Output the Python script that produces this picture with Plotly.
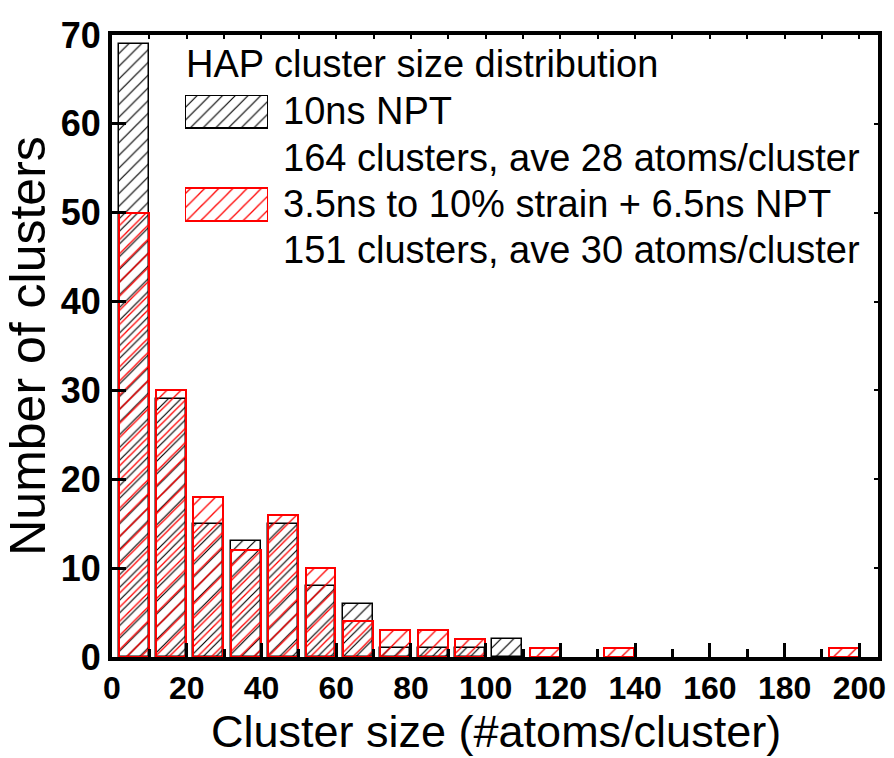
import plotly.graph_objects as go

# ---- data ----
bin_centers = [5.8, 15.8, 25.8, 35.8, 45.8, 55.8, 65.8, 75.8, 85.8, 95.8,
               105.8, 115.8, 125.8, 135.8, 145.8, 155.8, 165.8, 175.8, 185.8, 195.8]
npt_10ns = [69, 29, 15, 13, 15, 8, 6, 1, 1, 1, 2, 0, 0, 0, 0, 0, 0, 0, 0, 0]
strain_npt = [50, 30, 18, 12, 16, 10, 4, 3, 3, 2, 0, 1, 0, 1, 0, 0, 0, 0, 0, 1]
x_ticks = [0, 20, 40, 60, 80, 100, 120, 140, 160, 180, 200]
y_ticks = [0, 10, 20, 30, 40, 50, 60, 70]

x_title = "Cluster size (#atoms/cluster)"
y_title = "Number of clusters"
legend_title = "HAP cluster size distribution"
series_names = ["10ns NPT", "3.5ns to 10% strain + 6.5ns NPT"]
series_notes = ["164 clusters, ave 28 atoms/cluster", "151 clusters, ave 30 atoms/cluster"]
series_colors = ["black", "red"]
pattern_sizes = [9, 10]

W, H = 894, 758
L, R, T, B = 112, 878, 35, 657  # plot area in pixels

def px(x):
    return (x - L) / (R - L)

def py(y):
    return (B - y) / (B - T)

def nz(vals):
    return [v if v else None for v in vals]

fig = go.Figure()

for vals, col, ps, lw in [(npt_10ns, series_colors[0], pattern_sizes[0], 1.5),
                          (strain_npt, series_colors[1], pattern_sizes[1], 2)]:
    fig.add_trace(go.Bar(
        x=bin_centers, y=nz(vals), width=8,
        marker=dict(color=col, line=dict(color=col, width=lw),
                    pattern=dict(shape="/", size=ps, solidity=0.13, fillmode="replace")),
        showlegend=False, xaxis="x", yaxis="y",
    ))

# legend swatches on a hidden axis pair
for i, (col, ps) in enumerate(zip(series_colors, pattern_sizes)):
    fig.add_trace(go.Bar(
        x=[1], y=[1 - i], base=[0], orientation="h", width=0.353,
        marker=dict(color=col, line=dict(color=col, width=2),
                    pattern=dict(shape="/", size=ps, solidity=0.13, fillmode="replace")),
        showlegend=False, xaxis="x2", yaxis="y2", hoverinfo="skip",
    ))

# dummy trace for mirrored tick axes
fig.add_trace(go.Scatter(x=[None], y=[None], xaxis="x3", yaxis="y3", showlegend=False))

font_main = "Liberation Sans, Arial, sans-serif"

fig.update_layout(
    width=W, height=H,
    margin=dict(l=L, r=W - R, t=T, b=H - B, autoexpand=False),
    paper_bgcolor="white", plot_bgcolor="white",
    barmode="overlay", bargap=0,
    font=dict(family=font_main, color="black"),
    xaxis=dict(
        range=[0, 205], tickvals=x_ticks, ticks="inside", ticklen=14, tickwidth=3,
        tickcolor="black", showline=True, linewidth=4, linecolor="black", mirror=True,
        showgrid=False, zeroline=False, ticklabeloverflow="allow", automargin=False,
        tickfont=dict(size=32, weight="bold", family=font_main),
        minor=dict(dtick=10, tick0=0, ticks="inside", ticklen=8, tickwidth=3, tickcolor="black", showgrid=False),
    ),
    yaxis=dict(
        range=[0, 70], tickvals=y_ticks, ticks="inside", ticklen=14, tickwidth=3,
        tickcolor="black", showline=True, linewidth=4, linecolor="black", mirror=True,
        showgrid=False, zeroline=False, automargin=False,
        tickfont=dict(size=36, weight="bold", family=font_main),
        title=dict(text=y_title, font=dict(size=50, family=font_main), standoff=4),
    ),
    xaxis3=dict(overlaying="x", side="top", range=[0, 205], dtick=10, tick0=0, ticks="inside",
                ticklen=4, tickwidth=2, tickcolor="black", showticklabels=False,
                showgrid=False, zeroline=False, showline=False),
    yaxis3=dict(overlaying="y", side="right", range=[0, 70], dtick=10, tick0=0, ticks="inside",
                ticklen=4, tickwidth=2, tickcolor="black", showticklabels=False,
                showgrid=False, zeroline=False, showline=False),
    xaxis2=dict(domain=[px(185), px(268)], range=[0, 1], visible=False, anchor="y2"),
    yaxis2=dict(domain=[py(222), py(95)], range=[-0.182, 1.176], visible=False, anchor="x2"),
)

# x axis title placed at the bottom edge of the figure
fig.add_annotation(x=px(496), y=py(758), xref="paper", yref="paper", text=x_title,
                   showarrow=False, xanchor="center", yanchor="bottom", borderpad=0,
                   font=dict(size=45, family=font_main, color="black"))

ann_font = dict(size=38, family=font_main, color="black")
texts = [
    (184, 64, legend_title),
    (281, 111, series_names[0]),
    (281, 158, series_notes[0]),
    (281, 204, series_names[1]),
    (281, 250, series_notes[1]),
]
for x0, y0, t in texts:
    fig.add_annotation(x=px(x0), y=py(y0), xref="paper", yref="paper", text=t,
                       showarrow=False, xanchor="left", yanchor="middle", font=ann_font)

fig.write_html("out.html")
